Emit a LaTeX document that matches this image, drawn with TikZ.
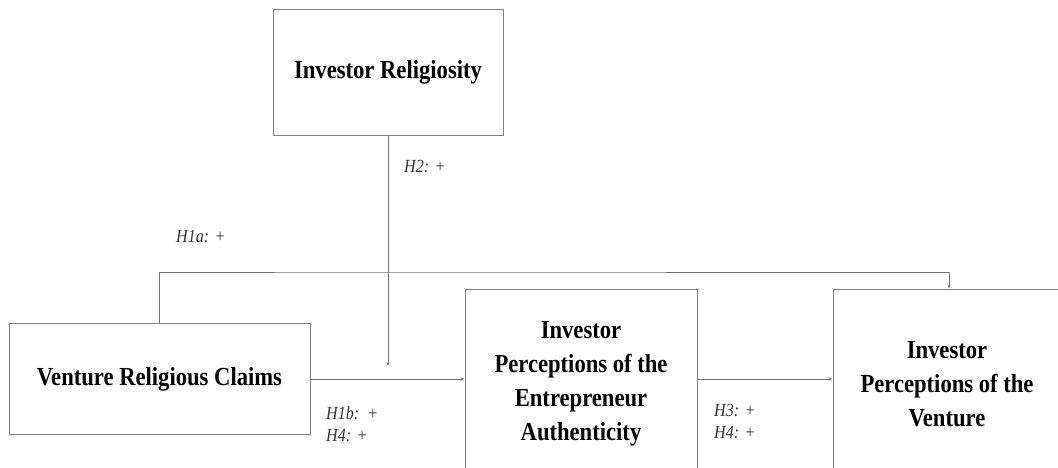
\documentclass[tikz,border=0pt]{standalone}
\usepackage{fontspec}
\setmainfont{Liberation Serif}[FakeStretch=0.87]
\usetikzlibrary{arrows.meta}
\begin{document}
\begin{tikzpicture}[x=1pt,y=-1pt,
    box/.style={draw=black!50,line width=1pt,align=center,inner sep=0pt,
        font=\fontsize{26}{34}\selectfont\bfseries},
    hyp/.style={anchor=west,align=left,inner sep=0pt,
        font=\fontsize{18.5}{22}\selectfont\itshape,text=black!80},
    link/.style={draw=black!55,line width=0.8pt,-{Stealth[length=4pt,width=3pt]}}]
    \useasboundingbox (0,0) rectangle (1058,467);
    \clip (0,0) rectangle (1058,467);
    \node[box,minimum width=230,minimum height=126] (rel)    at (388,72)    {Investor Religiosity};
    \node[box,minimum width=301,minimum height=111] (claims) at (159.5,379) {Venture Religious Claims};
    \node[box,minimum width=232,minimum height=190] (auth)   at (581,384)   {Investor\\Perceptions of the\\Entrepreneur\\Authenticity};
    \node[box,minimum width=228,minimum height=190] (vent)   at (947,384)   {Investor\\Perceptions of the\\Venture};
    \coordinate (mod) at (388,366);
    \coordinate (top) at (388,272);
    \draw[link] (rel.south) -- (mod);
    \draw[link] (claims.north) |- (top) -| ([xshift=2]vent.north);
    \draw[link] (claims.east) -- (claims.east -| auth.west);
    \draw[link] (claims.east -| auth.east) -- (claims.east -| vent.west);
    \node[hyp] (h2)  at (404,166) {H2: +};
    \node[hyp] (h1a) at (176,237) {H1a: +};
    \node[hyp] (h1b) at (326,424) {H1b:\ \ +\\H4: +};
    \node[hyp] (h3)  at (714,421) {H3: +\\H4: +};
\end{tikzpicture}
\end{document}
